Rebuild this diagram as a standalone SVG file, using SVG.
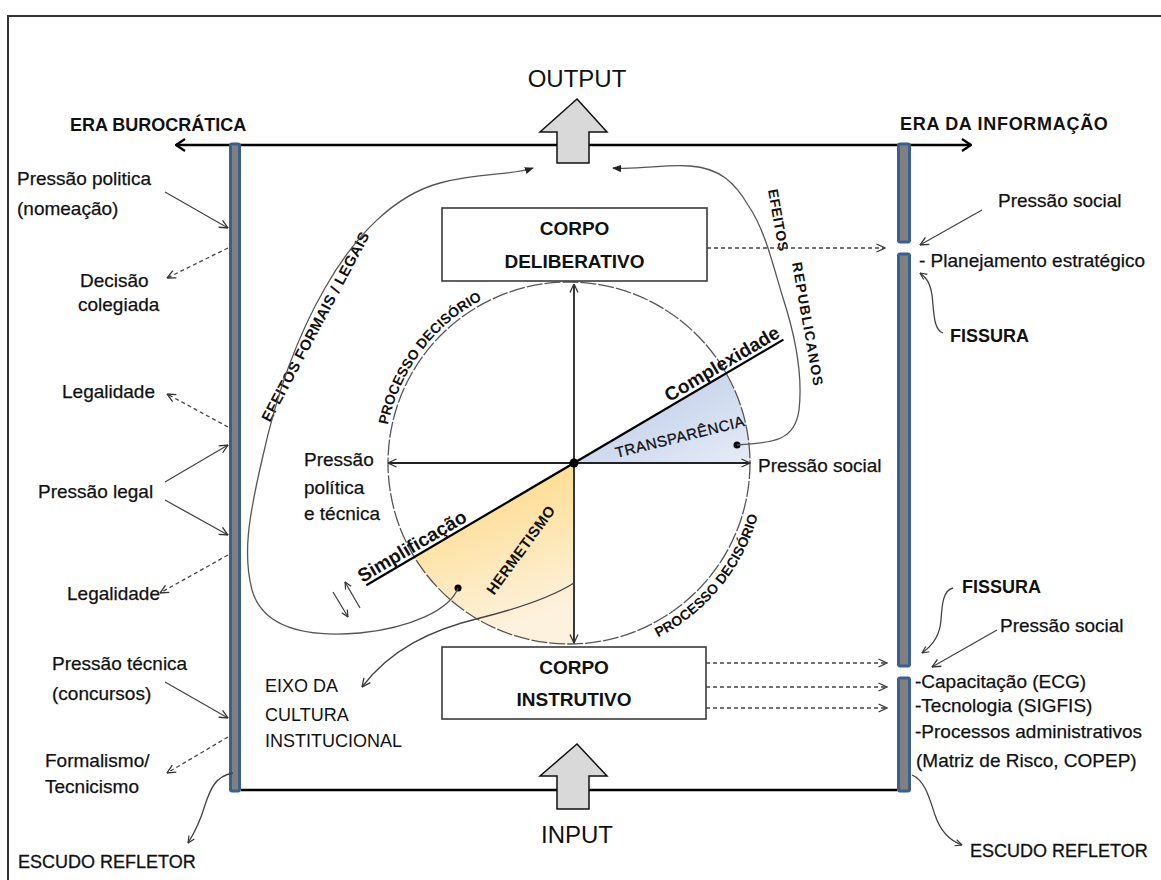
<svg xmlns="http://www.w3.org/2000/svg" width="1161" height="880" viewBox="0 0 1161 880">
<defs>
<style>
.t{font-family:"Liberation Sans",Arial,sans-serif;fill:#111}
.r{font-size:19px;stroke:#111;stroke-width:0.25}
.b{font-size:18px;font-weight:bold}
.box{fill:#fff;stroke:#3a3a3a;stroke-width:1.6}
.cb{font-size:19px;font-weight:bold;text-anchor:middle}
.g{fill:none;stroke:#444;stroke-width:1.3}
.d{fill:none;stroke:#444;stroke-width:1.3;stroke-dasharray:4 3}
.ax{fill:none;stroke:#222;stroke-width:1.8}
.cv{fill:none;stroke:#555;stroke-width:1.3}
.blk{fill:#d9d9d9;stroke:#111;stroke-width:1.5}
.pil{fill:#808080;stroke:#3b5f8e;stroke-width:3}
</style>
<marker id="a" viewBox="0 0 10 10" refX="9.5" refY="5" markerWidth="10" markerHeight="10" markerUnits="userSpaceOnUse" orient="auto-start-reverse"><path d="M1,1 L9.5,5 L1,9" fill="none" stroke="#333" stroke-width="1.3"/></marker>
<marker id="aS" viewBox="0 0 10 10" refX="9.5" refY="5" markerWidth="8" markerHeight="8" markerUnits="userSpaceOnUse" orient="auto"><path d="M1,1 L9.5,5 L1,9" fill="none" stroke="#333" stroke-width="1.5"/></marker>
<marker id="aB" viewBox="0 0 12 14" refX="11" refY="7" markerWidth="12" markerHeight="14" markerUnits="userSpaceOnUse" orient="auto-start-reverse"><path d="M2,1 L11,7 L2,13" fill="none" stroke="#000" stroke-width="2.2"/></marker>
<marker id="f" viewBox="0 0 10 10" refX="9" refY="5" markerWidth="9" markerHeight="9" markerUnits="userSpaceOnUse" orient="auto"><path d="M0,1 L10,5 L0,9 z" fill="#222"/></marker>
<linearGradient id="gb" x1="0" y1="0" x2="1" y2="1"><stop offset="0" stop-color="#b6c6e7"/><stop offset="1" stop-color="#e6ecf7"/></linearGradient>
<linearGradient id="gy" x1="0" y1="0" x2="0.3" y2="1"><stop offset="0" stop-color="#fdd677"/><stop offset="1" stop-color="#fdf2de"/></linearGradient>
</defs>
<rect x="8" y="16" width="1170" height="890" fill="#fff" stroke="#333" stroke-width="2"/>

<g id="frame">
<line x1="176" y1="145" x2="971" y2="145" stroke="#000" stroke-width="2.5" marker-start="url(#aB)" marker-end="url(#aB)"/>
<line x1="241" y1="790" x2="897" y2="790" stroke="#000" stroke-width="2.5"/>
<rect class="pil" x="230.5" y="144" width="9" height="647" rx="1.5"/>
<rect class="pil" x="898.5" y="144" width="11" height="98" rx="1.5"/>
<rect class="pil" x="898.5" y="254" width="11" height="412" rx="1.5"/>
<rect class="pil" x="898.5" y="678" width="11" height="113" rx="1.5"/>
</g>

<g id="output">
<polygon class="blk" points="577,99 607,132 589,132 589,163 557,163 557,132 540,132"/>
<text class="t" x="577" y="87" font-size="24" text-anchor="middle" fill="#222">OUTPUT</text>
</g>
<g id="input">
<polygon class="blk" points="577,744 607,776 589,776 589,809 557,809 557,776 540,776"/>
<text class="t" x="577" y="843" font-size="24" text-anchor="middle" fill="#222">INPUT</text>
</g>

<g id="eras">
<text class="t b" x="70" y="131">ERA BUROCRÁTICA</text>
<text class="t b" x="900" y="130" letter-spacing="0.7">ERA DA INFORMAÇÃO</text>
</g>

<g id="circle">
<path d="M574,463 L726.3,373.2 A181,181 0 0 1 750,463 Z" fill="url(#gb)"/>
<path d="M574,463 L414.3,557.1 A181,181 0 0 0 574,643.9 Z" fill="url(#gy)"/>
<circle cx="569" cy="463" r="181" fill="none" stroke="#555" stroke-width="1.3" stroke-dasharray="16 2"/>
<line class="ax" x1="574" y1="463" x2="574" y2="284" marker-end="url(#a)"/>
<line class="ax" x1="574" y1="463" x2="574" y2="643" marker-end="url(#a)"/>
<line class="ax" x1="574" y1="463" x2="388" y2="463" marker-end="url(#a)"/>
<line class="ax" x1="574" y1="463" x2="750" y2="463" marker-end="url(#a)"/>
<g transform="translate(574,463) rotate(-30.5)">
<line x1="-241" y1="0" x2="243" y2="0" stroke="#000" stroke-width="2.2"/>
<text class="t" x="113" y="-4" font-size="19" font-weight="bold">Complexidade</text>
<text class="t" x="-243" y="-4" font-size="19" font-weight="bold">Simplificação</text>
</g>
<circle cx="574" cy="463" r="4.5" fill="#000"/>
<text class="t" transform="translate(680,437) rotate(-14)" x="0" y="5" font-size="15" text-anchor="middle" letter-spacing="0.5" stroke="#111" stroke-width="0.3">TRANSPARÊNCIA</text>
<text class="t" transform="translate(521,550) rotate(-54)" x="0" y="5" font-size="15" font-weight="bold" text-anchor="middle" letter-spacing="0.4">HERMETISMO</text>
<path id="arcUL" d="M386.8,430.9 A185,185 0 0 1 536.9,280.8" fill="none"/>
<path id="arcLR" d="M651.8,640.6 A196,196 0 0 0 764.3,480.1" fill="none"/>
<text class="t" font-size="14" font-weight="bold"><textPath href="#arcUL" startOffset="6">PROCESSO DECISÓRIO</textPath></text>
<text class="t" font-size="14" font-weight="bold"><textPath href="#arcLR" startOffset="7">PROCESSO DECISÓRIO</textPath></text>
<circle cx="737" cy="445" r="3.5" fill="#000"/>
<circle cx="458" cy="588" r="3.5" fill="#000"/>
</g>

<g id="corpo-deliberativo">
<rect class="box" x="442" y="208" width="265" height="73"/>
<text class="t cb" x="574.5" y="235">CORPO</text>
<text class="t cb" x="574.5" y="268">DELIBERATIVO</text>
</g>
<g id="corpo-instrutivo">
<rect class="box" x="442" y="647" width="264" height="72"/>
<text class="t cb" x="574" y="674">CORPO</text>
<text class="t cb" x="574" y="706">INSTRUTIVO</text>
</g>

<g id="center-labels">
<text class="t r" x="304" y="466">Pressão</text>
<text class="t r" x="304" y="494">política</text>
<text class="t r" x="304" y="520">e técnica</text>
<text class="t r" x="758" y="472">Pressão social</text>
<text class="t" x="265" y="692" font-size="18">EIXO DA</text>
<text class="t" x="265" y="721" font-size="18">CULTURA</text>
<text class="t" x="265" y="747" font-size="18">INSTITUCIONAL</text>
<text class="t" transform="translate(270,423) rotate(-62)" font-size="15" font-weight="bold" letter-spacing="0.3">EFEITOS FORMAIS / LEGAIS</text>
<text class="t" transform="translate(768,190) rotate(80)" font-size="14" font-weight="bold" letter-spacing="0.5">EFEITOS</text>
<text class="t" transform="translate(792,263) rotate(80)" font-size="14" font-weight="bold" letter-spacing="1.2">REPUBLICANOS</text>
</g>

<g id="left-labels">
<text class="t r" x="17" y="185">Pressão politica</text>
<text class="t r" x="17" y="215">(nomeação)</text>
<text class="t r" x="80" y="287">Decisão</text>
<text class="t r" x="78" y="311">colegiada</text>
<text class="t r" x="62" y="398">Legalidade</text>
<text class="t r" x="38" y="498">Pressão legal</text>
<text class="t r" x="67" y="600">Legalidade</text>
<text class="t r" x="52" y="670">Pressão técnica</text>
<text class="t r" x="52" y="700">(concursos)</text>
<text class="t r" x="45" y="767">Formalismo/</text>
<text class="t r" x="45" y="793">Tecnicismo</text>
<text class="t" x="18" y="868" font-size="18" stroke="#111" stroke-width="0.3">ESCUDO REFLETOR</text>
</g>

<g id="right-labels">
<text class="t r" x="998" y="207">Pressão social</text>
<text class="t r" x="919" y="267">- Planejamento estratégico</text>
<text class="t b" x="950" y="342">FISSURA</text>
<text class="t b" x="962" y="593">FISSURA</text>
<text class="t r" x="1000" y="632">Pressão social</text>
<text class="t r" x="915" y="688">-Capacitação (ECG)</text>
<text class="t r" x="915" y="712">-Tecnologia (SIGFIS)</text>
<text class="t r" x="915" y="738">-Processos administrativos</text>
<text class="t r" x="916" y="767">(Matriz de Risco, COPEP)</text>
<text class="t" x="970" y="857" font-size="18" stroke="#111" stroke-width="0.3">ESCUDO REFLETOR</text>
</g>

<g id="connectors">
<path class="cv" d="M737,445 C775,443 795,440 799,410 C803,375 795,335 783,298 C772,262 765,230 748,205 C735,183 720,168 690,166 C665,164 640,170 613,168" marker-end="url(#f)"/>
<path class="cv" d="M458,588 C450,610 410,628 360,633 C300,638 262,625 252,590 C243,555 248,520 262,460 C275,400 295,340 325,288 C355,235 395,195 440,183 C480,172 510,176 533,168" marker-end="url(#f)"/>
<path class="g" d="M574,583 C550,598 520,608 480,618 C430,630 390,650 362,687" marker-end="url(#a)"/>
<line class="g" x1="333" y1="592" x2="348" y2="617" marker-end="url(#aS)"/>
<line class="g" x1="360" y1="608" x2="345" y2="582" marker-end="url(#aS)"/>
<line class="g" x1="165" y1="192" x2="228" y2="228" marker-end="url(#a)"/>
<line class="d" x1="228" y1="248" x2="167" y2="278" marker-end="url(#a)"/>
<line class="d" x1="228" y1="427" x2="167" y2="394" marker-end="url(#a)"/>
<line class="g" x1="165" y1="482" x2="228" y2="445" marker-end="url(#a)"/>
<line class="g" x1="165" y1="500" x2="228" y2="535" marker-end="url(#a)"/>
<line class="d" x1="228" y1="555" x2="160" y2="593" marker-end="url(#a)"/>
<line class="g" x1="165" y1="682" x2="228" y2="718" marker-end="url(#a)"/>
<line class="d" x1="228" y1="737" x2="167" y2="773" marker-end="url(#a)"/>
<path class="g" d="M233,773 C215,776 210,790 205,805 C200,822 195,832 188,843" marker-end="url(#aS)"/>
<path class="g" d="M912,775 C925,780 930,800 935,815 C940,830 948,840 962,845" marker-end="url(#aS)"/>
<path class="g" d="M943,333 C933,330 934,310 932,295 C930,283 927,278 920,273" marker-end="url(#aS)"/>
<path class="g" d="M953,588 C943,590 942,605 941,620 C940,635 932,646 922,653" marker-end="url(#aS)"/>
<line class="g" x1="982" y1="210" x2="920" y2="245" marker-end="url(#a)"/>
<line class="g" x1="997" y1="630" x2="932" y2="667" marker-end="url(#a)"/>
<line class="d" x1="707" y1="248" x2="885" y2="248" marker-end="url(#a)"/>
<line class="d" x1="706" y1="663" x2="887" y2="663" marker-end="url(#a)"/>
<line class="d" x1="706" y1="687" x2="887" y2="687" marker-end="url(#a)"/>
<line class="d" x1="706" y1="708" x2="887" y2="708" marker-end="url(#a)"/>
</g>
</svg>
